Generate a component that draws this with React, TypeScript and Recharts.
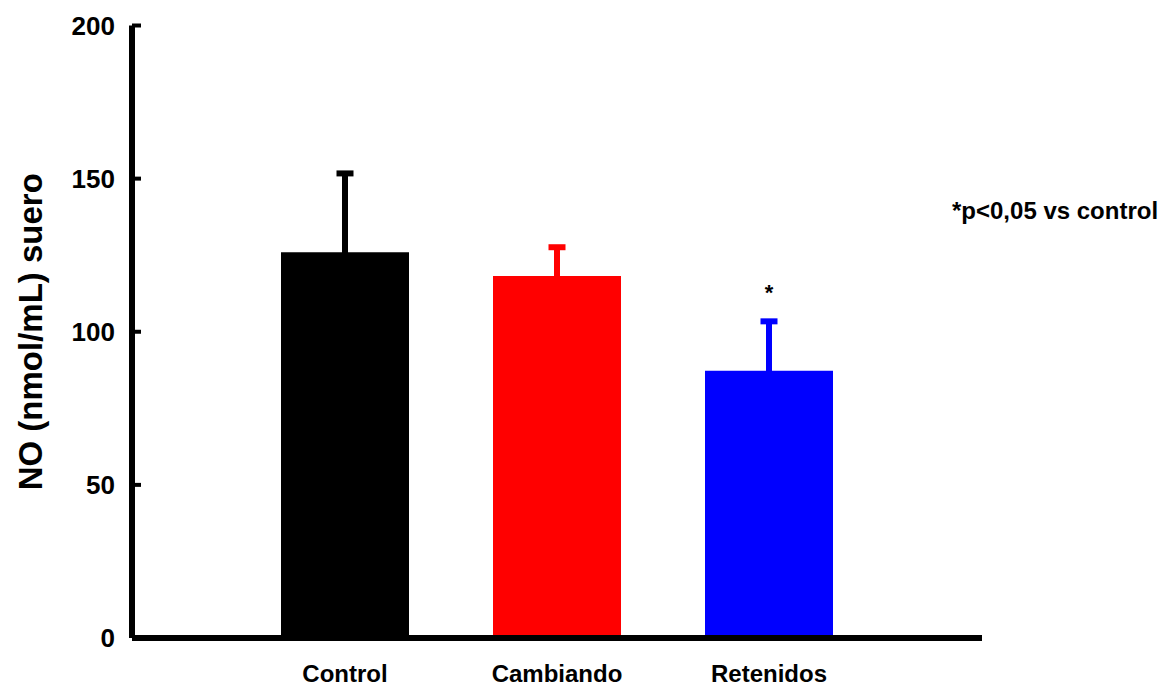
import React from 'react';
import {
  BarChart,
  Bar,
  XAxis,
  YAxis,
  Cell,
  ErrorBar,
  ReferenceDot,
  Label,
} from 'recharts';

const categories = ['Control', 'Cambiando', 'Retenidos'];
const means = [126, 118.2, 87.3];
const sems = [25.7, 9.4, 16.1];
const barColors = ['#000000', '#ff0000', '#0000ff'];
const yTicks = [0, 50, 100, 150, 200];
const significant = ['Retenidos'];

const FONT = '"Liberation Sans", Arial, Helvetica, sans-serif';

const data = categories.map((cat, i) => ({ cat, mean: means[i], sem: sems[i] }));

// y ticks point inward, so draw them ourselves
const YTick = ({ x, y, payload }: any) => {
  const axisX = x + 17;
  return (
    <g>
      {payload.value !== 0 && (
        <line x1={axisX} x2={axisX + 9} y1={y} y2={y} stroke="#000" strokeWidth={4} />
      )}
      <text x={x} y={y} dy="0.35em" textAnchor="end" fontSize={26} fontWeight="bold" fill="#000">
        {payload.value}
      </text>
    </g>
  );
};

const YTitle = ({ viewBox }: any) => {
  const cx = viewBox.x - 2;
  const cy = viewBox.y + viewBox.height / 2;
  return (
    <text
      x={cx}
      y={cy}
      transform={`rotate(-90, ${cx}, ${cy})`}
      textAnchor="middle"
      dy="0.35em"
      fontSize={33}
      fontWeight="bold"
      fill="#000"
    >
      NO (nmol/mL) suero
    </text>
  );
};

export default function App() {
  return (
    <div
      style={{
        position: 'absolute',
        left: 0,
        top: 0,
        width: 1170,
        height: 686,
        background: '#fff',
        fontFamily: FONT,
      }}
    >
      <BarChart
        width={1170}
        height={686}
        data={data}
        margin={{ top: 25.5, right: 188, bottom: 18, left: 32 }}
      >
        <XAxis
          dataKey="cat"
          height={30}
          padding={{ left: 107, right: 107 }}
          axisLine={{ stroke: '#000', strokeWidth: 6 }}
          tickLine={false}
          tickMargin={21}
          tick={{ fill: '#000', fontSize: 24, fontWeight: 'bold' }}
          interval={0}
        />
        <YAxis
          width={100}
          domain={[0, 200]}
          ticks={yTicks}
          axisLine={{ stroke: '#000', strokeWidth: 6 }}
          tickLine={false}
          tickMargin={11}
          tick={<YTick />}
        >
          <Label content={<YTitle />} />
        </YAxis>
        <Bar dataKey="mean" barSize={128} isAnimationActive={false}>
          {data.map((d, i) => (
            <Cell key={d.cat} fill={barColors[i]} />
          ))}
          {categories.map((cat, i) => (
            <ErrorBar
              key={cat}
              dataKey={(d: any) => (d.cat === cat ? [3, d.sem] : undefined)}
              direction="y"
              width={8.5}
              stroke={barColors[i]}
              strokeWidth={6}
              isAnimationActive={false}
            />
          ))}
        </Bar>
        {significant.map((cat) => (
          <ReferenceDot
            key={cat}
            x={cat}
            y={113}
            r={0}
            fill="none"
            stroke="none"
            label={{ value: '*', position: 'center', fontSize: 22, fontWeight: 'bold', fill: '#000' }}
          />
        ))}
      </BarChart>
      <div
        style={{
          position: 'absolute',
          left: 952,
          top: 197,
          fontSize: 24,
          fontWeight: 'bold',
          color: '#000',
          whiteSpace: 'nowrap',
        }}
      >
        *p&lt;0,05 vs control
      </div>
    </div>
  );
}
